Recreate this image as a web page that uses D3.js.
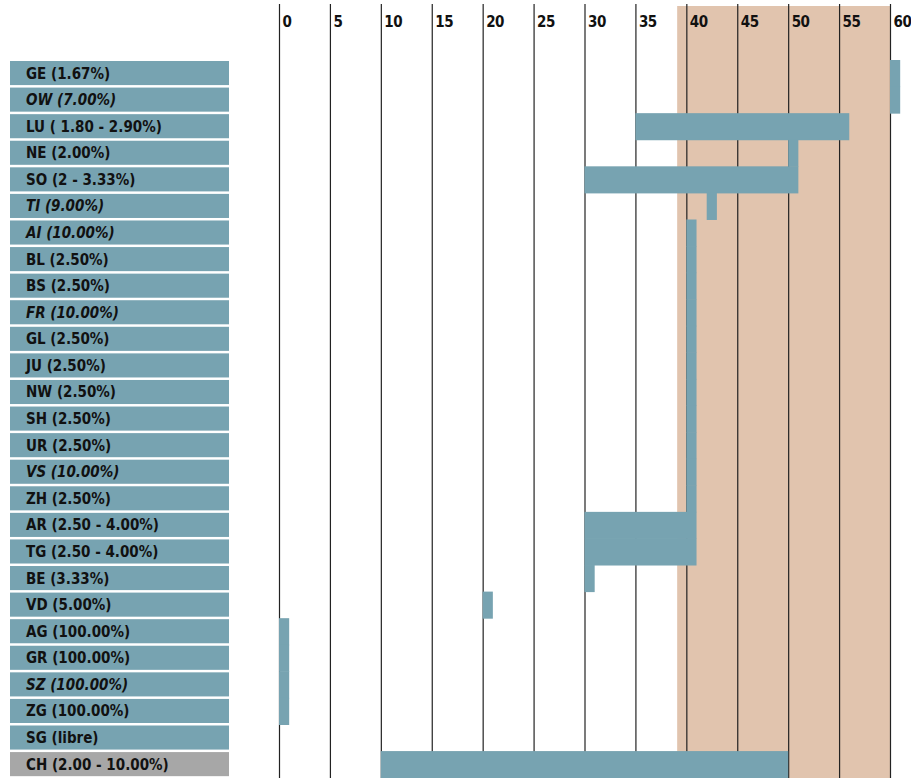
<!DOCTYPE html>
<html>
<head>
<meta charset="utf-8">
<script src="https://cdn.jsdelivr.net/npm/d3@7"></script>
<style>
  body { margin: 0; background: #fff; }
  text { font-family: "Liberation Sans Narrow", "DejaVu Sans Condensed", sans-serif; }
</style>
</head>
<body>
<svg id="chart"></svg>
<script>
// rows, top to bottom
const cantons = ['GE', 'OW', 'LU', 'NE', 'SO', 'TI', 'AI', 'BL', 'BS', 'FR', 'GL', 'JU', 'NW',
  'SH', 'UR', 'VS', 'ZH', 'AR', 'TG', 'BE', 'VD', 'AG', 'GR', 'SZ', 'ZG', 'SG', 'CH']
const rates = ['(1.67%)', '(7.00%)', '( 1.80 - 2.90%)', '(2.00%)', '(2 - 3.33%)', '(9.00%)',
  '(10.00%)', '(2.50%)', '(2.50%)', '(10.00%)', '(2.50%)', '(2.50%)', '(2.50%)', '(2.50%)',
  '(2.50%)', '(10.00%)', '(2.50%)', '(2.50 - 4.00%)', '(2.50 - 4.00%)', '(3.33%)', '(5.00%)',
  '(100.00%)', '(100.00%)', '(100.00%)', '(100.00%)', '(libre)', '(2.00 - 10.00%)']
const italicRows = ['OW', 'TI', 'AI', 'FR', 'VS', 'SZ']

// bar start / end per row (null = no bar)
const barStart = [60, 60, 35, 50, 30, 42, 40, 40, 40, 40, 40, 40, 40, 40, 40, 40, 40, 30, 30, 30, 20, 0, 0, 0, 0, null, 10]
const barEnd = [61, 61, 56, 51, 51, 43, 41, 41, 41, 41, 41, 41, 41, 41, 41, 41, 41, 41, 41, 31, 21, 1, 1, 1, 1, null, 50]

const ticks = [0, 5, 10, 15, 20, 25, 30, 35, 40, 45, 50, 55, 60]
const band = [39.1, 60]

const W = 911, H = 778

const svg = d3.select('#chart')
  .attr('width', W)
  .attr('height', H)

const x = d3.scaleLinear().domain([0, 60]).range([279, 890])
const y = d3.scaleBand().domain(cantons).range([61, 61 + 27 * 26.58]).paddingInner(0)

// shaded zone
svg.append('rect')
  .attr('x', x(band[0]))
  .attr('y', 6)
  .attr('width', x(band[1]) - x(band[0]))
  .attr('height', H - 6)
  .attr('fill', '#e1c4ae')

// grid lines + tick labels
const axis = d3.axisTop(x).tickValues(ticks).tickSize(-(H - 4)).tickFormat(d3.format('d'))
const gAxis = svg.append('g')
  .attr('transform', 'translate(0,4)')
  .call(axis)
gAxis.select('.domain').remove()
gAxis.selectAll('.tick line')
  .attr('stroke', '#222')
  .attr('stroke-width', 1.2)
gAxis.selectAll('.tick text')
  .attr('text-anchor', 'start')
  .attr('x', 3)
  .attr('y', 23)
  .attr('font-size', 15)
  .attr('font-weight', 'bold')
  .attr('letter-spacing', -0.5)
  .attr('fill', '#111')

// bars
svg.append('g')
  .selectAll('rect')
  .data(cantons.map((c, i) => ({ c, s: barStart[i], e: barEnd[i] })).filter(d => d.s !== null))
  .join('rect')
  .attr('x', d => x(d.s))
  .attr('y', d => y(d.c) - 1)
  .attr('width', d => x(d.e) - x(d.s))
  .attr('height', y.bandwidth() + 0.5)
  .attr('fill', '#77a3b1')

// label boxes
const rows = svg.append('g')
  .selectAll('g')
  .data(cantons)
  .join('g')
  .attr('transform', d => `translate(10,${y(d)})`)

rows.append('rect')
  .attr('width', 219)
  .attr('height', y.bandwidth() - 2.5)
  .attr('fill', d => d === 'CH' ? '#a7a7a7' : '#77a3b1')

rows.append('text')
  .attr('x', 16)
  .attr('y', 17.5)
  .attr('font-size', 15)
  .attr('font-weight', 'bold')
  .attr('font-style', d => italicRows.includes(d) ? 'italic' : 'normal')
  .attr('fill', '#111')
  .text((d, i) => `${d} ${rates[i]}`)
</script>
</body>
</html>
